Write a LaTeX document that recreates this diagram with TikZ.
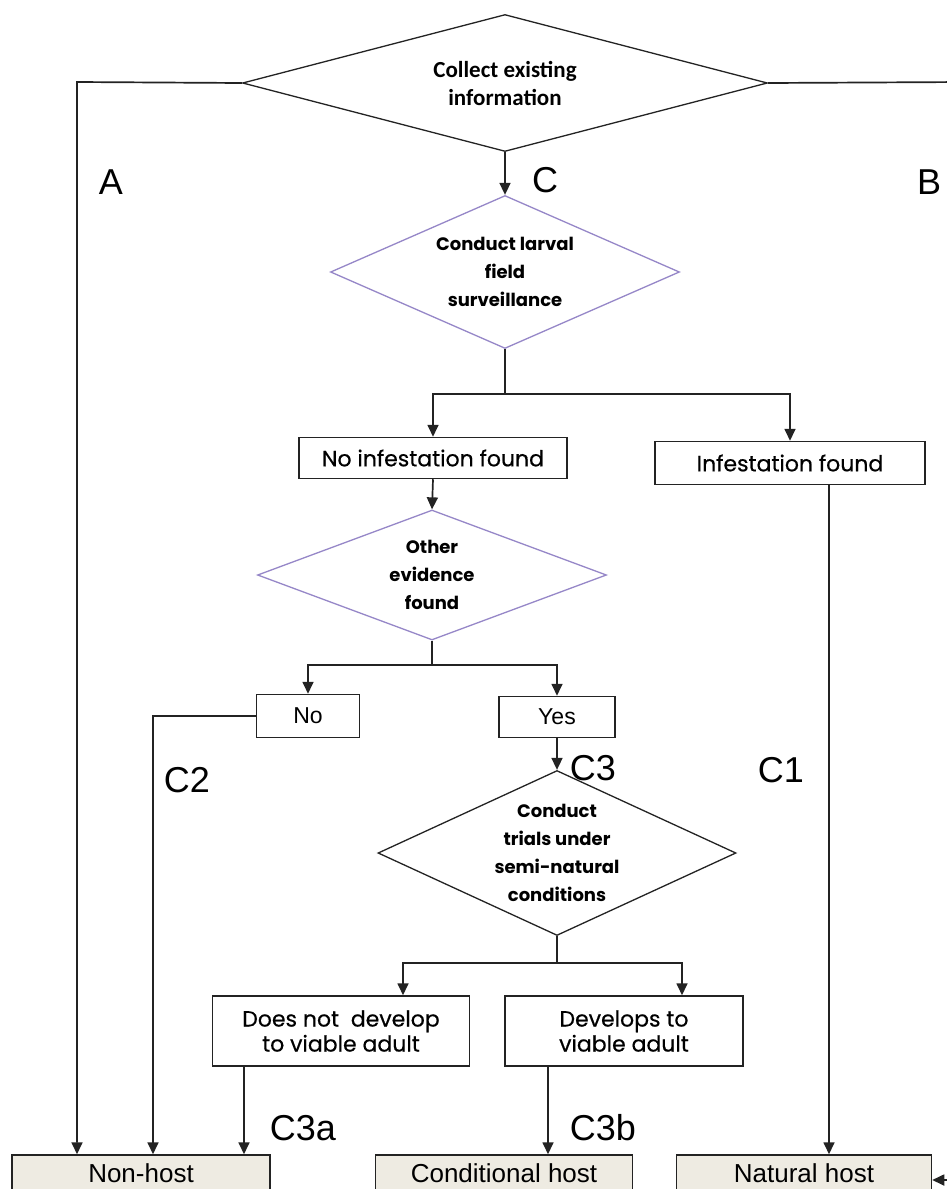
\documentclass[tikz,border=0pt]{standalone}
\usepackage{fontspec}
\setmainfont{Liberation Sans}
\newfontfamily\popfont{Poppins}[FakeBold=0.5]
\newfontfamily\popbold{Poppins}
\newfontfamily\calfont{Carlito}
\usetikzlibrary{shapes.geometric,arrows.meta,calc}
\definecolor{lav}{RGB}{150,135,200}
\definecolor{beige}{RGB}{238,235,226}
\definecolor{ln}{RGB}{35,35,35}
\newcommand{\hosttext}[1]{\raisebox{3pt}{#1}}
\begin{document}
\begin{tikzpicture}[x=1pt,y=-1pt,
  conn/.style={draw=ln, line width=1.7pt},
  arr/.style={conn, -{Triangle[length=12pt,width=11pt]}},
  dia/.style={diamond, draw, line width=1.3pt, inner sep=0pt},
  diablack/.style={dia, draw=ln},
  dialav/.style={dia, draw=lav},
  diatext/.style={inner sep=0pt, align=center, font=\popbold\bfseries\fontsize{18}{28}\selectfont},
  box/.style={rectangle, draw=ln, line width=1.5pt, inner sep=0pt, align=center,
              font=\popfont\fontsize{22}{25}\selectfont},
  arialbox/.style={box, font=\fontsize{23}{27}\selectfont},
  hostbox/.style={rectangle, draw=ln, fill=beige, line width=1.5pt, inner sep=0pt,
              minimum height=40pt, font=\fontsize{26}{30}\selectfont},
  lbl/.style={font=\fontsize{36}{40}\selectfont, inner sep=0pt}
]
\fill[white] (0,0) rectangle (947,1189);
\useasboundingbox (0,0) rectangle (947,1189);

% decision diamonds
\node[diablack, minimum width=525pt, minimum height=137pt] (d1) at (505,83) {};
\node[diatext, font=\calfont\bfseries\fontsize{23}{28}\selectfont] (t1) at (d1.center)
      {Collect existing\\information};
\node[dialav, minimum width=349pt, minimum height=153pt] (d2) at (505,272) {};
\node[diatext] (t2) at (d2.center) {Conduct larval\\field\\surveillance};
\node[dialav, minimum width=349pt, minimum height=130pt] (d3) at (432,575) {};
\node[diatext] (t3) at (d3.center) {Other\\evidence\\found};
\node[diablack, minimum width=358pt, minimum height=165pt] (d4) at (557,853) {};
\node[diatext] (t4) at (d4.center) {Conduct\\trials under\\semi-natural\\conditions};

% boxes
\node[box, minimum width=268pt, minimum height=41pt] (noinf) at (433,458) {No infestation found};
\node[box, minimum width=270pt, minimum height=43pt] (inf) at (790,463) {Infestation found};
\node[arialbox, minimum width=103pt, minimum height=43pt] (no) at (308,716) {No};
\node[arialbox, minimum width=116pt, minimum height=41pt] (yes) at (557,717) {Yes};
\node[box, minimum width=257pt, minimum height=70pt] (notdev) at (341,1031)
      {Does not\ \ develop\\to viable adult};
\node[box, minimum width=238pt, minimum height=70pt] (dev) at (624,1031)
      {Develops to\\viable adult};

% outcome boxes (cut by the lower edge)
\node[hostbox, minimum width=258pt] (nonhost) at (141,1175) {\hosttext{Non-host}};
\node[hostbox, minimum width=257pt] (cond) at (504,1175) {\hosttext{Conditional host}};
\node[hostbox, minimum width=255pt] (nat) at (804,1175) {\hosttext{Natural host}};

% helper coordinates
\coordinate (aL) at (77,82);
\coordinate (bR) at (965,82);
\coordinate (bIn) at (965,1180);
\coordinate (c2L) at (153,716);

% connectors
\draw[arr] (d1.west) -- (aL) -- (aL |- nonhost.north);
\draw[arr] (d1.east) -- (bR) -- (bIn) -- (nat.east |- bIn);
\draw[arr] (d1.south) -- (d2.north);

\draw[conn] (d2.south) -- ++(0,45) coordinate (j1);
\draw[arr] (j1) -| (noinf.north);
\draw[arr] (j1) -| (inf.north);

\draw[arr] (noinf.south) -- (d3.north);
\draw[conn] (d3.south) -- ++(0,24) coordinate (j2);
\draw[arr] (j2) -| (no.north);
\draw[arr] (j2) -| (yes.north);

\draw[arr] (no.west) -- (c2L) -- (c2L |- nonhost.north);
\draw[arr] (yes.south) -- (d4.north);

\draw[conn] (d4.south) -- ++(0,27) coordinate (j3);
\draw[arr] (j3) -| ([xshift=62pt]notdev.north);
\draw[arr] (j3) -| ([xshift=58pt]dev.north);

\draw[arr] ([xshift=-97pt]notdev.south) -- ([xshift=-97pt]notdev.south |- nonhost.north);
\draw[arr] ([xshift=-76pt]dev.south) -- ([xshift=-76pt]dev.south |- cond.north);
\draw[arr] ([xshift=39pt]inf.south) -- ([xshift=39pt]inf.south |- nat.north);

% branch labels
\node[lbl] (la) at (111,182) {A};
\node[lbl] (lc) at (545,180) {C};
\node[lbl] (lb) at (929,182) {B};
\node[lbl] (lc1) at (781,770) {C1};
\node[lbl] (lc2) at (187,780) {C2};
\node[lbl] (lc3) at (593,768) {C3};
\node[lbl] (lc3a) at (303,1128) {C3a};
\node[lbl] (lc3b) at (603,1128) {C3b};
\end{tikzpicture}
\end{document}
